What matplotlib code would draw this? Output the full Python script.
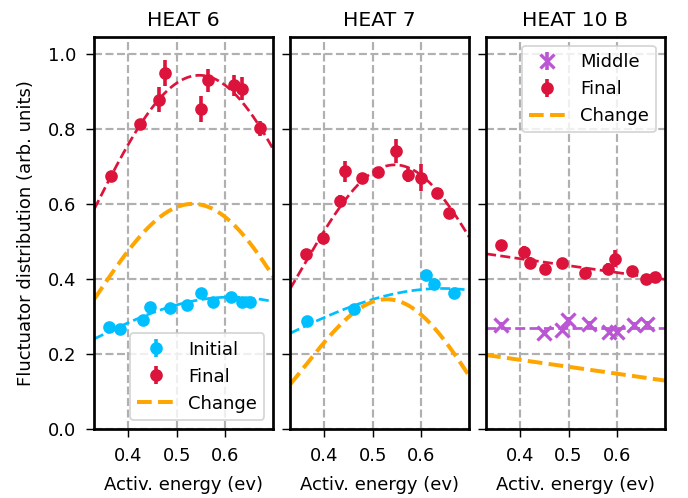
import numpy as np
import matplotlib
matplotlib.use("Agg")
import matplotlib.pyplot as plt

# ---------------- measured points ----------------
# HEAT 6
h6_init_x = [0.360, 0.383, 0.431, 0.444, 0.486, 0.521, 0.551, 0.576, 0.613, 0.635, 0.652]
h6_init_y = [0.271, 0.267, 0.291, 0.326, 0.324, 0.332, 0.362, 0.340, 0.351, 0.338, 0.338]
h6_init_e = [0.008, 0.008, 0.010, 0.014, 0.008, 0.008, 0.010, 0.008, 0.008, 0.008, 0.008]

h6_fin_x = [0.364, 0.424, 0.4625, 0.476, 0.551, 0.565, 0.619, 0.636, 0.673]
h6_fin_y = [0.675, 0.813, 0.879, 0.951, 0.854, 0.931, 0.917, 0.908, 0.802]
h6_fin_e = [0.010, 0.012, 0.033, 0.035, 0.035, 0.031, 0.028, 0.031, 0.020]

# HEAT 7
h7_init_x = [0.3635, 0.461, 0.611, 0.628, 0.668]
h7_init_y = [0.288, 0.319, 0.411, 0.387, 0.364]
h7_init_e = [0.008, 0.008, 0.013, 0.008, 0.008]

h7_fin_x = [0.361, 0.3965, 0.432, 0.443, 0.477, 0.512, 0.5485, 0.574, 0.600, 0.634, 0.659]
h7_fin_y = [0.468, 0.511, 0.608, 0.688, 0.671, 0.686, 0.742, 0.679, 0.671, 0.631, 0.577]
h7_fin_e = [0.010, 0.010, 0.016, 0.028, 0.012, 0.010, 0.031, 0.019, 0.036, 0.010, 0.010]

# HEAT 10 B
h10_mid_x = [0.359, 0.4495, 0.486, 0.4995, 0.543, 0.584, 0.601, 0.635, 0.663]
h10_mid_y = [0.277, 0.255, 0.264, 0.292, 0.280, 0.259, 0.259, 0.277, 0.280]
h10_mid_e = [0.008, 0.008, 0.008, 0.008, 0.008, 0.008, 0.008, 0.008, 0.008]

h10_fin_x = [0.359, 0.407, 0.419, 0.452, 0.486, 0.534, 0.581, 0.5965, 0.632, 0.661, 0.680]
h10_fin_y = [0.491, 0.473, 0.443, 0.427, 0.443, 0.415, 0.427, 0.455, 0.421, 0.401, 0.406]
h10_fin_e = [0.012, 0.016, 0.015, 0.008, 0.008, 0.008, 0.016, 0.024, 0.008, 0.008, 0.008]

# ---------------- fit parameters ----------------
# Gaussian fits: amplitude, centre, 2*sigma^2
h6_fin_fit = (0.944, 0.547, 0.100)
h6_init_fit = (0.352, 0.614, 0.213)
h7_fin_fit = (0.705, 0.546, 0.0744)
h7_init_fit = (0.375, 0.645, 0.260)
# Linear fits for HEAT 10 B: slope, intercept
h10_fin_fit = (-0.184, 0.528)
h10_mid_fit = (0.0, 0.270)

titles = ["HEAT 6", "HEAT 7", "HEAT 10 B"]
x_ticks = [0.4, 0.5, 0.6]
y_ticks = [0.0, 0.2, 0.4, 0.6, 0.8, 1.0]

RED = "crimson"
CYAN = "deepskyblue"
ORANGE = "orange"
PURPLE = "mediumorchid"


def gauss(x, p):
    a, mu, w = p
    return a * np.exp(-(x - mu) ** 2 / w)


def line(x, p):
    m, b = p
    return m * x + b


DPI = 130
plt.rcParams["xtick.major.size"] = 4.6
plt.rcParams["ytick.major.size"] = 4.6
plt.rcParams["xtick.major.pad"] = 5.3
plt.rcParams["ytick.major.pad"] = 5.3

fig, axes = plt.subplots(1, 3, sharex=True, sharey=True,
                         figsize=(688 / DPI, 498 / DPI), dpi=DPI)
fig.subplots_adjust(left=0.137, right=0.9666, bottom=0.1386, top=0.9263, wspace=0.095)

xlim = (0.329, 0.700)
xs = np.linspace(xlim[0], xlim[1], 300)

ebkw = dict(capsize=0, elinewidth=2)

# HEAT 6
ax = axes[0]
f_init = gauss(xs, h6_init_fit)
f_fin = gauss(xs, h6_fin_fit)
h_i = ax.errorbar(h6_init_x, h6_init_y, yerr=h6_init_e, fmt="o", color=CYAN, **ebkw)
ax.plot(xs, f_init, "--", color=CYAN, lw=1.5)
h_f = ax.errorbar(h6_fin_x, h6_fin_y, yerr=h6_fin_e, fmt="o", color=RED, **ebkw)
ax.plot(xs, f_fin, "--", color=RED, lw=1.5)
h_c, = ax.plot(xs, f_fin - f_init, "--", color=ORANGE, lw=2.2)
ax.legend([h_i, h_f, h_c], ["Initial", "Final", "Change"], loc="lower right")

# HEAT 7
ax = axes[1]
f_init = gauss(xs, h7_init_fit)
f_fin = gauss(xs, h7_fin_fit)
ax.errorbar(h7_init_x, h7_init_y, yerr=h7_init_e, fmt="o", color=CYAN, **ebkw)
ax.plot(xs, f_init, "--", color=CYAN, lw=1.5)
ax.errorbar(h7_fin_x, h7_fin_y, yerr=h7_fin_e, fmt="o", color=RED, **ebkw)
ax.plot(xs, f_fin, "--", color=RED, lw=1.5)
ax.plot(xs, f_fin - f_init, "--", color=ORANGE, lw=2.2)

# HEAT 10 B
ax = axes[2]
f_mid = line(xs, h10_mid_fit)
f_fin = line(xs, h10_fin_fit)
h_m = ax.errorbar(h10_mid_x, h10_mid_y, yerr=h10_mid_e, fmt="x", color=PURPLE,
                  ms=8.3, mew=1.8, **ebkw)
ax.plot(xs, f_mid, "--", color=PURPLE, lw=1.5)
h_f = ax.errorbar(h10_fin_x, h10_fin_y, yerr=h10_fin_e, fmt="o", color=RED, **ebkw)
ax.plot(xs, f_fin, "--", color=RED, lw=1.5)
h_c, = ax.plot(xs, f_fin - f_mid, "--", color=ORANGE, lw=2.2)
ax.legend([h_m, h_f, h_c], ["Middle", "Final", "Change"], loc="upper right")

for ax, t in zip(axes, titles):
    ax.set_title(t, fontsize=11.3)
    ax.set_xlabel("Activ. energy (ev)", labelpad=6)
    ax.grid(True, linestyle="--", linewidth=1.2)
    ax.set_axisbelow(True)
    ax.set_xticks(x_ticks)
    ax.set_yticks(y_ticks)
    for s in ax.spines.values():
        s.set_linewidth(1.5)

axes[0].set_xlim(*xlim)
axes[0].set_ylim(0.0, 1.047)
axes[0].set_ylabel("Fluctuator distribution (arb. units)", labelpad=7)

fig.savefig("out.png", dpi=DPI)
